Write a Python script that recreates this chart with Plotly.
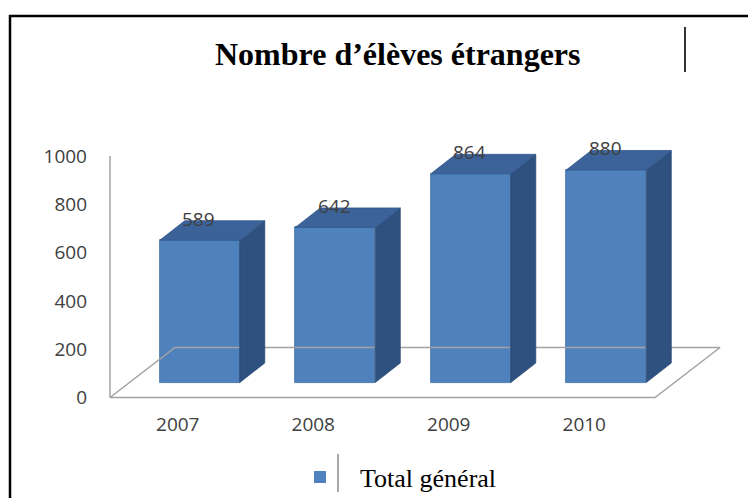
import plotly.graph_objects as go

# ---------------- data ----------------
years = ["2007", "2008", "2009", "2010"]
eleves = [589, 642, 864, 880]
y_ticks = [0, 200, 400, 600, 800, 1000]
title_text = "Nombre d’élèves étrangers"
series_name = "Total général"

# ---------------- geometry / style ----------------
OFF = 8                      # page body margin of the html page
SCR_W, SCR_H = 756, 498
W, H = SCR_W - OFF, SCR_H - OFF
# plot area in screen pixels
PL, PR, PT, PB = 106, 724, 130, 399
L, R, T, B = PL - OFF, SCR_W - PR, PT - OFF, SCR_H - PB
PW, PH = PR - PL, PB - PT
PX_PER_X = 135.5             # pixels per category step
PX_PER_Y = 0.2415            # pixels per value unit
AX_LEFT_PX = 110             # screen x of value axis
Y_ZERO_PX = 397.5            # screen y of value 0
X0 = -0.5 - (AX_LEFT_PX - PL) / PX_PER_X
X1 = X0 + PW / PX_PER_X
Y1 = (Y_ZERO_PX - PT) / PX_PER_Y
Y0 = -(PB - Y_ZERO_PX) / PX_PER_Y

def ux(px):  # pixels -> x units (distance)
    return px / PX_PER_X

def uy(px):  # pixels -> y units (distance)
    return px / PX_PER_Y

bar_shift_x = ux(22)         # bar plane offset (depth)
bar_base = uy(15)
bar_w = ux(80)
ddx, ddy = ux(25), uy(19.5)  # bar depth
floor_dx, floor_dy = ux(65), uy(50)
floor_x0, floor_x1 = -0.5, -0.5 + ux(545)

FRONT = "#4f81bd"
TOP = "#3b639a"
SIDE = "#2f5180"
GREY_LINE = "#a3a3a3"
TXT = "#404040"
SANS = "Open Sans, Lato, sans-serif"
SERIF = "Liberation Serif, Times New Roman, serif"

def pxp(px):  # screen x -> paper
    return (px - PL) / PW

def pyp(py):  # screen y -> paper
    return 1 - (py - PT) / PH

fig = go.Figure()

# floor (parallelogram)
fig.add_trace(go.Scatter(
    x=[floor_x0, floor_x1, floor_x1 + floor_dx, floor_x0 + floor_dx, floor_x0],
    y=[0, 0, floor_dy, floor_dy, 0],
    mode="lines", line=dict(color=GREY_LINE, width=1.5),
    hoverinfo="skip", showlegend=False))

# value axis line
fig.add_trace(go.Scatter(
    x=[floor_x0, floor_x0], y=[0, y_ticks[-1]],
    mode="lines", line=dict(color=GREY_LINE, width=1.5),
    hoverinfo="skip", showlegend=False))

xc = [i + bar_shift_x for i in range(len(years))]

# front faces
fig.add_trace(go.Bar(
    x=xc, y=eleves, base=bar_base, width=bar_w,
    marker=dict(color=FRONT, line=dict(color="#3f6ea6", width=0.8)),
    name=series_name, showlegend=False,
    customdata=years, hovertemplate="%{customdata}: %{y}<extra></extra>"))

# side faces and top faces
sx, sy, tx, ty = [], [], [], []
for c, v in zip(xc, eleves):
    xl, xr = c - bar_w / 2, c + bar_w / 2
    yb, yt = bar_base, bar_base + v
    sx += [xr, xr, xr + ddx, xr + ddx, xr, None]
    sy += [yb, yt, yt + ddy, yb + ddy, yb, None]
    tx += [xl, xr, xr + ddx, xl + ddx, xl, None]
    ty += [yt, yt, yt + ddy, yt + ddy, yt, None]

fig.add_trace(go.Scatter(x=sx, y=sy, fill="toself", fillcolor=SIDE, mode="lines",
                         line=dict(color="#294a75", width=0.8),
                         hoverinfo="skip", showlegend=False))
fig.add_trace(go.Scatter(x=tx, y=ty, fill="toself", fillcolor=TOP, mode="lines",
                         line=dict(color="#33588b", width=0.8),
                         hoverinfo="skip", showlegend=False))

# data labels
for c, v in zip(xc, eleves):
    fig.add_annotation(x=c - ux(1), y=bar_base + v + ddy + uy(2), text=str(v),
                       showarrow=False, xanchor="center", yanchor="middle",
                       font=dict(family=SANS, size=19, color=TXT))

# title
fig.add_annotation(xref="paper", yref="paper", x=pxp(397.5), y=pyp(54),
                   text="<b>" + title_text + "</b>", showarrow=False,
                   xanchor="center", yanchor="middle",
                   font=dict(family=SERIF, size=32, color="black"))

# legend (manual)
fig.add_shape(type="rect", xref="paper", yref="paper",
              x0=pxp(314), x1=pxp(326), y0=pyp(483), y1=pyp(471),
              fillcolor=FRONT, line=dict(width=0))
fig.add_annotation(xref="paper", yref="paper", x=pxp(358), y=pyp(478),
                   text=series_name, showarrow=False, xanchor="left", yanchor="middle",
                   font=dict(family=SERIF, size=26, color="black"))

# document frame and stray cell borders
fig.add_shape(type="line", xref="paper", yref="paper",
              x0=pxp(10), x1=pxp(10), y0=pyp(15), y1=pyp(510),
              line=dict(color="black", width=2.5))
fig.add_shape(type="line", xref="paper", yref="paper",
              x0=pxp(9), x1=pxp(770), y0=pyp(16), y1=pyp(16),
              line=dict(color="black", width=2.5))
fig.add_shape(type="line", xref="paper", yref="paper",
              x0=pxp(685), x1=pxp(685), y0=pyp(27), y1=pyp(72),
              line=dict(color="black", width=1.6))
fig.add_shape(type="line", xref="paper", yref="paper",
              x0=pxp(338), x1=pxp(338), y0=pyp(454), y1=pyp(492),
              line=dict(color="#555555", width=1))

fig.update_layout(
    width=W, height=H,
    margin=dict(l=L, r=R, t=T, b=B, pad=0),
    paper_bgcolor="white", plot_bgcolor="white",
    showlegend=False,
    bargap=0,
    xaxis=dict(range=[X0, X1], tickvals=list(range(len(years))), ticktext=years,
               showgrid=False, zeroline=False, showline=False, ticks="",
               ticklabelstandoff=12,
               tickfont=dict(family=SANS, size=19, color=TXT), fixedrange=True),
    yaxis=dict(range=[Y0, Y1], tickvals=y_ticks, showgrid=False, zeroline=False,
               showline=False, ticks="", ticklabelstandoff=18,
               tickfont=dict(family=SANS, size=19, color=TXT), fixedrange=True),
)

fig.write_html("out.html")
